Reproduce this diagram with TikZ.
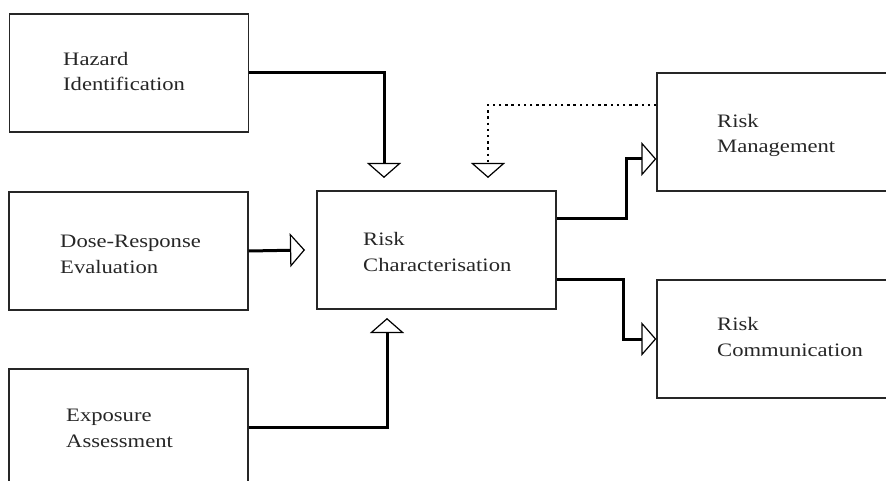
\documentclass[tikz,border=0pt]{standalone}
\usepackage{fontspec}
\setmainfont{Liberation Serif}[FakeStretch=1.19]
\usetikzlibrary{arrows.meta}
\tikzset{
  box/.style={draw=black!85, line width=1.4pt, minimum width=239pt, minimum height=118pt, inner sep=0pt},
  lbl/.style={anchor=base west, inner sep=0pt, align=left, text=black!85,
    font=\fontsize{19}{25.3}\selectfont},
  conn/.style={draw=black, line width=3pt,
    -{Triangle[open, width=34pt, length=15pt, line width=1.2pt]}},
  dotconn/.style={draw=black, line width=2.4pt, dash pattern=on 2.4pt off 3.8pt,
    -{Triangle[open, width=34pt, length=15pt, line width=1.2pt]}}
}
\begin{document}
\begin{tikzpicture}[x=1pt, y=-1pt]
\useasboundingbox (0,0) rectangle (886,481);
% boxes
\node[box] (haz) at (129,73) {};
\node[box] (dose) at (128.5,251) {};
\node[box, minimum height=116pt] (expo) at (128.5,427) {};
\node[box] (rc) at (436.5,250) {};
\node[box, minimum width=240pt] (rm) at (777,132) {};
\node[box, minimum width=240pt] (rcomm) at (777,339) {};
% labels (anchored at the baseline of their last line)
\node[lbl] (hazt) at (63,90.5) {Hazard\\Identification};
\node[lbl] (doset) at (60,273) {Dose-Response\\Evaluation};
\node[lbl] (expot) at (66,447) {Exposure\\Assessment};
\node[lbl] (rct) at (363,271) {Risk\\Characterisation};
\node[lbl] (rmt) at (717,153) {Risk\\Management};
\node[lbl] (rcommt) at (717,356) {Risk\\Communication};
% connector ends
\coordinate (hazin) at (384,178);
\coordinate (dosein) at (305,250);
\coordinate (expoin) at (387,318);
\coordinate (dotin) at (488,178);
% connectors
\draw[conn] (haz.east) -| (hazin);
\draw[conn] (dose.east) -- (dosein);
\draw[conn] (expo.east) -| (expoin);
\draw[conn] ([yshift=31pt]rc.east) -- ++(70,0) |- ([yshift=-27pt]rm.west);
\draw[conn] ([yshift=-29pt]rc.east) -- ++(67,0) |- (rcomm.west);
\draw[dotconn] ([yshift=27pt]rm.west) -| (dotin);
\end{tikzpicture}
\end{document}
